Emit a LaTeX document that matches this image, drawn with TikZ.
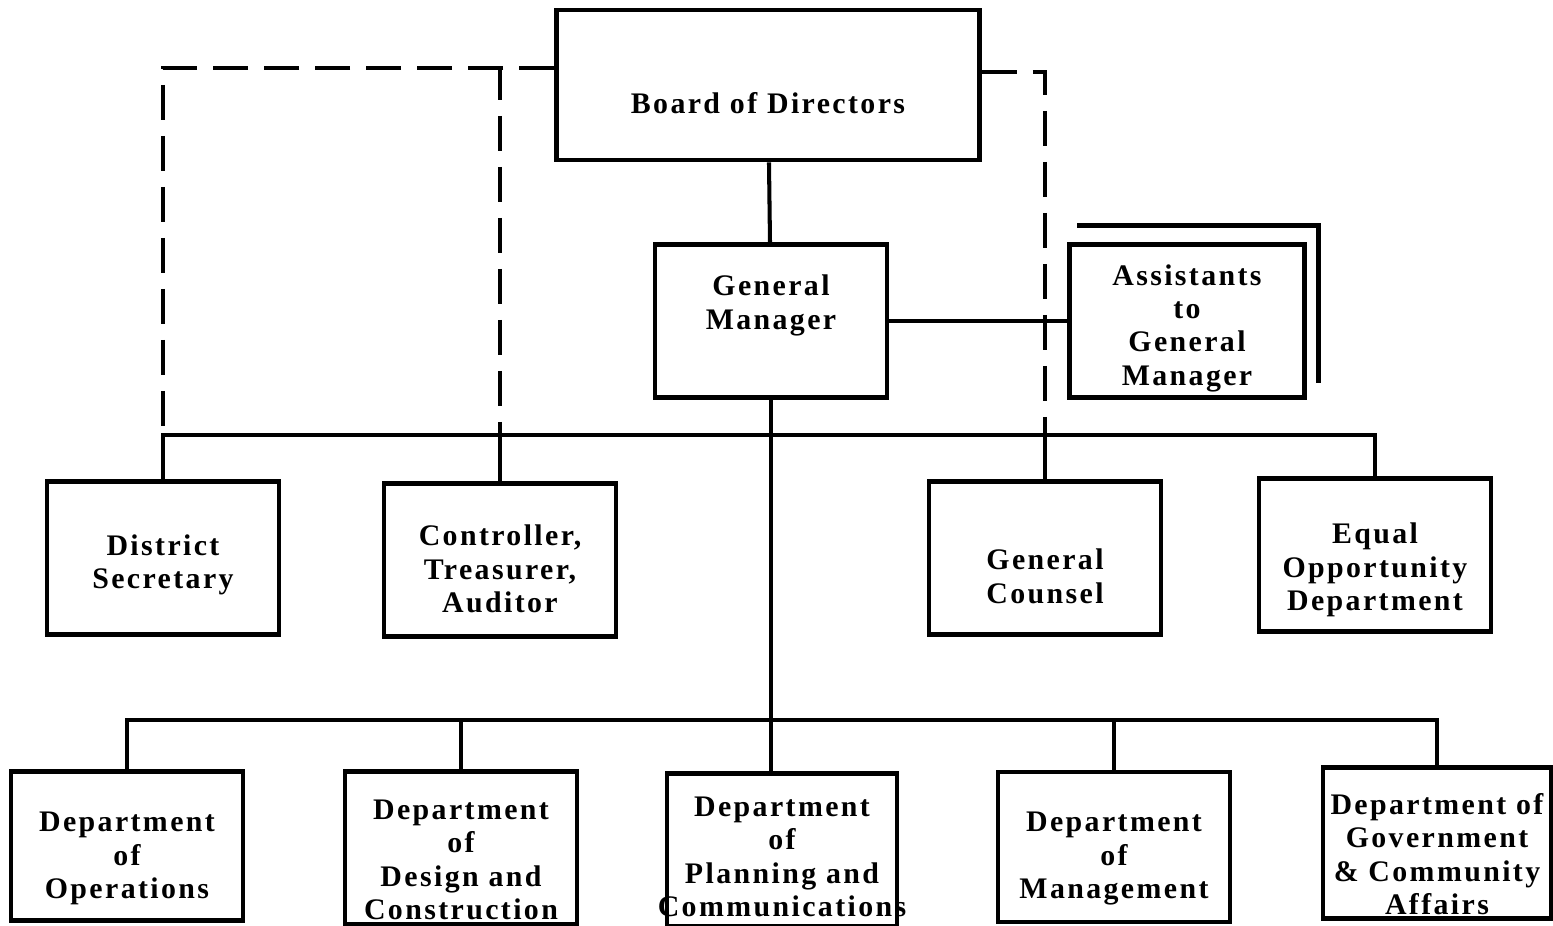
\documentclass[tikz,border=0pt]{standalone}
\usepackage{fontspec}
\newfontfamily\chartfont[LetterSpace=8]{Liberation Serif}
\usetikzlibrary{positioning,calc}

% struts that push a label down (top) or up (bottom) inside its box
\newcommand\padtop[1]{\rule{0pt}{#1}}
\newcommand\padbot[1]{\rule[-#1]{0pt}{0pt}}

\tikzset{
  unit/.style={draw, line width=2.8pt, align=center, inner sep=2pt,
    minimum width=4.64cm, minimum height=3.06cm,
    font=\fontsize{17}{19}\selectfont\chartfont\bfseries},
  link/.style={line width=2.3pt},
  staff/.style={line width=2.6pt, dash pattern=on 0.7cm off 0.32cm}
}

\begin{document}
\begin{tikzpicture}[x=0.02cm, y=-0.02cm]
\useasboundingbox (0,0) rectangle (1553,926);

% top of the chart
\node[unit, minimum width=8.46cm, minimum height=3cm] (board) at (768,85) {\padtop{1.14cm}Board of Directors};
\node[unit] (gm) at (771,321) {General\\Manager\padbot{0.76cm}};
\node[unit, minimum width=4.7cm] (asst) at (1187,321) {\padtop{0.7cm}Assistants\\to\\General\\Manager};

% staff row
\node[unit] (dsec) at (163,558) {\padtop{0.7cm}District\\Secretary};
\node[unit] (ctrl) at (500,560) {\padtop{0.78cm}Controller,\\Treasurer,\\Auditor};
\node[unit] (coun) at (1045,558) {\padtop{1.14cm}General\\Counsel};
\node[unit] (eqop) at (1375,555) {\padtop{1.02cm}Equal\\Opportunity\\Department};

% departments
\node[unit, minimum height=2.98cm] (ops) at (127,846) {\padtop{0.9cm}Department\\of\\Operations};
\node[unit] (dsgn) at (461,848) {\padtop{0.86cm}Department\\of\\Design and\\Construction};
\node[unit, minimum width=4.6cm] (plan) at (782,850) {\padtop{0.66cm}Department\\of\\Planning and\\\makebox[4.3cm]{Communications}};
\node[unit, minimum height=3cm] (mgmt) at (1114,847) {\padtop{0.86cm}Department\\of\\Management};
\node[unit, minimum width=4.56cm, minimum height=3cm] (govt) at (1437,843) {\padtop{0.86cm}Department of\\Government\\\& Community\\Affairs};

\path (gm.south) ++(0,35) coordinate (upper) ++(0,285) coordinate (lower);

% solid lines
\draw[link] (board) -- (gm);
\draw[link] (gm.east |- asst.west) -- (asst.west);
\draw[link] (gm.south) -- (gm.south |- plan.north);
\draw[link] (dsec.north) |- (upper) -| (eqop.north);
\draw[link] (ctrl.north) -- (ctrl.north |- upper);
\draw[link] (coun.north) -- (coun.north |- upper);
\draw[link] (ops.north) |- (lower) -| (govt.north);
\draw[link] (dsgn.north) -- (dsgn.north |- lower);
\draw[link] (mgmt.north) -- (mgmt.north |- lower);

% dashed lines from the board
\draw[staff] ([yshift=0.34cm]board.west) -| (dsec.north |- upper);
\draw[staff] ([yshift=0.34cm]board.west) -| (ctrl.north |- upper);
\draw[staff] ([yshift=0.26cm]board.east) -| (coun.north |- upper);

% second sheet behind the assistants box
\draw[line width=2.8pt] ([shift={(10,-17)}]asst.north west) -| ([shift={(12,-17)}]asst.south east);

\end{tikzpicture}
\end{document}
